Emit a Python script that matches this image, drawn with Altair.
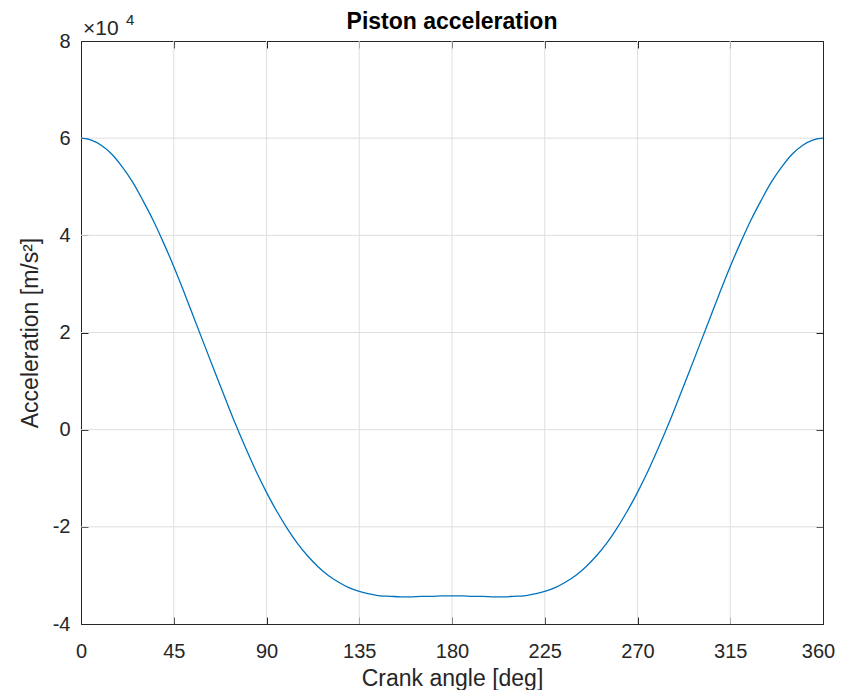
import altair as alt
import pandas as pd

# Crank angle [deg]
angle_deg = [0, 5, 10, 15, 20, 25, 30, 35, 40, 45, 50, 55, 60, 65, 70, 75, 80, 85,
             90, 95, 100, 105, 110, 115, 120, 125, 130, 135, 140, 145, 150, 155, 160, 165,
             170, 175, 180, 185, 190, 195, 200, 205, 210, 215, 220, 225, 230, 235, 240, 245,
             250, 255, 260, 265, 270, 275, 280, 285, 290, 295, 300, 305, 310, 315, 320, 325,
             330, 335, 340, 345, 350, 355, 360]

# Piston acceleration [m/s^2]
accel = [60000, 59600, 58500, 56700, 54100, 51000, 47200, 43100, 38500, 33600, 28300, 22800,
         17300, 11800, 6400, 1100, -3900, -8600, -12900, -16800, -20300, -23400, -26000,
         -28200, -30000, -31400, -32500, -33300, -33800, -34200, -34300, -34400, -34400,
         -34300, -34300, -34200, -34200, -34200, -34300, -34300, -34400, -34400, -34300,
         -34200, -33800, -33300, -32500, -31400, -30000, -28200, -26000, -23400, -20300,
         -16800, -12900, -8600, -3900, 1100, 6400, 11800, 17300, 22800, 28300, 33600, 38500,
         43100, 47200, 51000, 54100, 56700, 58500, 59600, 60000]

x_ticks = [0, 45, 90, 135, 180, 225, 270, 315, 360]
y_ticks = [-40000, -20000, 0, 20000, 40000, 60000, 80000]
x_grid = x_ticks[1:-1]
y_grid = y_ticks[1:-1]

chart_title = ["Piston acceleration"]
exp_base = ["×10"]
exp_power = ["4"]

FONT = "Liberation Sans"
DARK = "#262626"
GRID = "#dfdfdf"

W, H = 742, 583

df = pd.DataFrame({"angle": angle_deg, "accel": accel})

xscale = alt.Scale(domain=[0, 360], nice=False, zero=False)
yscale = alt.Scale(domain=[-40000, 80000], nice=False, zero=False)

xgrid = alt.Chart(pd.DataFrame({"gx": x_grid})).mark_rule(
    color=GRID, strokeWidth=1
).encode(x=alt.X("gx:Q", scale=xscale, axis=None))

ygrid = alt.Chart(pd.DataFrame({"gy": y_grid})).mark_rule(
    color=GRID, strokeWidth=1
).encode(y=alt.Y("gy:Q", scale=yscale, axis=None))

tick_common = dict(offset=-7, tickSize=7, tickColor=DARK, tickWidth=1,
                   domain=False, grid=False)

bottom_axis = alt.Axis(
    orient="bottom", values=x_ticks, labelFont=FONT, labelFontSize=20,
    labelColor=DARK, labelPadding=17, labelFlush=False, labelOverlap=False,
    labelOffset={"condition": {"test": "datum.value == 360", "value": -5}, "value": 0},
    title="Crank angle [deg]", titleFont=FONT, titleFontSize=23,
    titleFontWeight="normal", titleColor=DARK, titlePadding=6, **tick_common)

left_axis = alt.Axis(
    orient="left", values=y_ticks, labelExpr="datum.value / 10000",
    labelFont=FONT, labelFontSize=20, labelColor=DARK, labelPadding=11,
    labelFlush=False, labelOverlap=False,
    title="Acceleration [m/s²]", titleFont=FONT, titleFontSize=23,
    titleFontWeight="normal", titleColor=DARK, titlePadding=10, **tick_common)

top_axis = alt.Axis(orient="top", values=x_ticks, labels=False, title=None, **tick_common)
right_axis = alt.Axis(orient="right", values=y_ticks, labels=False, title=None, **tick_common)

line = alt.Chart(df).mark_line(
    color="#0072BD", strokeWidth=1.3, interpolate="monotone"
).encode(
    x=alt.X("angle:Q", scale=xscale, axis=bottom_axis),
    y=alt.Y("accel:Q", scale=yscale, axis=left_axis),
)

mirror = alt.Chart(df).mark_line(
    strokeOpacity=0, interpolate="monotone"
).encode(
    x=alt.X("angle:Q", scale=xscale, axis=top_axis),
    y=alt.Y("accel:Q", scale=yscale, axis=right_axis),
)

exp_df = pd.DataFrame({"base": exp_base, "power": exp_power})
base_text = alt.Chart(exp_df).mark_text(
    align="left", baseline="alphabetic", font=FONT, fontSize=21, color=DARK
).encode(text="base:N", x=alt.value(2), y=alt.value(-6))
power_text = alt.Chart(exp_df).mark_text(
    align="left", baseline="alphabetic", font=FONT, fontSize=15, color=DARK
).encode(text="power:N", x=alt.value(45), y=alt.value(-16))

title_text = alt.Chart(pd.DataFrame({"t": chart_title})).mark_text(
    align="center", baseline="alphabetic", font=FONT, fontSize=23,
    fontWeight="bold", color="#000000"
).encode(text="t:N", x=alt.value(W / 2), y=alt.value(-12))

chart = alt.layer(
    xgrid, ygrid, line, mirror, base_text, power_text, title_text
).resolve_axis(
    x="independent", y="independent"
).properties(
    width=W, height=H,
    padding={"left": 73, "top": 33, "right": 13, "bottom": 66},
    autosize=alt.AutoSizeParams(type="none"),
).configure_view(stroke=DARK, strokeWidth=1)

chart.save("out.html", embed_options={"renderer": "svg", "actions": False})
